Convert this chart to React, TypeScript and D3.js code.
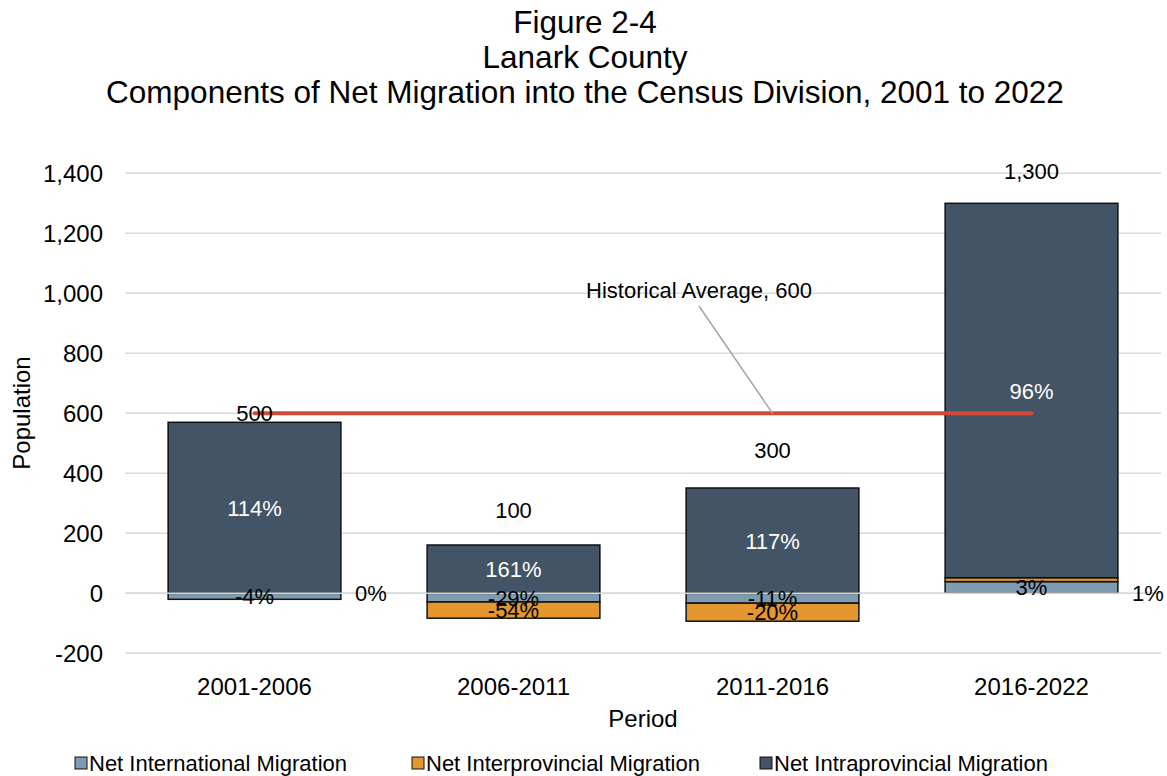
import React from "react";
import * as d3 from "d3";

// periods on the x axis
const periods = ["2001-2006", "2006-2011", "2011-2016", "2016-2022"];

// series values (persons)
const international = [-20, -29, -33, 39];
const interprovincial = [0, -54, -60, 13];
const intraprovincial = [570, 161, 351, 1248];

// label text shown on the chart
const totalLabels = ["500", "100", "300", "1,300"];
const internationalPct = ["-4%", "-29%", "-11%", "3%"];
const interprovincialPct = ["0%", "-54%", "-20%", "1%"];
const intraprovincialPct = ["114%", "161%", "117%", "96%"];

const historicalAverage = 600;
const yTicks = [-200, 0, 200, 400, 600, 800, 1000, 1200, 1400];

const seriesNames = [
  "Net International Migration",
  "Net Interprovincial Migration",
  "Net Intraprovincial Migration",
];
const colors = ["#7f9bb0", "#e3972e", "#435466"];

const W = 1167;
const H = 776;
const FONT = "'Liberation Sans', Arial, sans-serif";

export default function App() {
  const x = d3
    .scaleBand()
    .domain(periods)
    .range([125, 1161])
    .paddingInner(0.333)
    .paddingOuter(0.1665);
  const y = d3.scaleLinear().domain([-200, 1400]).range([653.3, 173.3]);
  const bw = x.bandwidth();
  const fmt = (v: number) => d3.format(",")(v).replace("\u2212", "-");

  // stacked segments: positives stack up from 0, negatives stack down
  const segs: any[] = [];
  periods.forEach((p, i) => {
    let pos = 0;
    let neg = 0;
    [international, interprovincial, intraprovincial].forEach((arr, s) => {
      const v = arr[i];
      let y0, y1;
      if (v >= 0) {
        y0 = pos;
        y1 = pos + v;
        pos = y1;
      } else {
        y0 = neg;
        y1 = neg + v;
        neg = y1;
      }
      segs.push({ p, i, s, v, y0, y1 });
    });
  });

  const pctLabels = [internationalPct, interprovincialPct, intraprovincialPct];
  // how far the total labels sit above each bar (px)
  const totalLift = [1, 27, 30, 24];

  const lineY = y(historicalAverage);
  const lineX0 = x(periods[0])! + bw / 2;
  const lineX1 = x(periods[3])! + bw / 2;
  const pointX = x(periods[2])! + bw / 2;

  const legendX = [75, 412, 760];

  return (
    <svg width={W} height={H} style={{ position: "absolute", left: 0, top: 0, background: "#fff" }} fontFamily={FONT}>
      {/* title */}
      <g textAnchor="middle" fontSize={31.5} fill="#000">
        <text x={585} y={33}>Figure 2-4</text>
        <text x={585} y={68}>Lanark County</text>
        <text x={585} y={103}>Components of Net Migration into the Census Division, 2001 to 2022</text>
      </g>

      {/* gridlines */}
      {yTicks.map((t) => (
        <line key={t} x1={125} x2={1161} y1={y(t)} y2={y(t)} stroke="#d9d9d9" strokeWidth={1.5} />
      ))}
      {/* y tick labels */}
      {yTicks.map((t) => (
        <text key={"l" + t} x={103} y={y(t) + 8.5} textAnchor="end" fontSize={24} fill="#000">
          {fmt(t)}
        </text>
      ))}

      {/* bars */}
      {segs.map((d, k) =>
        d.v === 0 ? null : (
          <rect
            key={k}
            x={x(d.p)}
            width={bw}
            y={y(Math.max(d.y0, d.y1))}
            height={Math.abs(y(d.y0) - y(d.y1))}
            fill={colors[d.s]}
            stroke="#111"
            strokeWidth={1.5}
          />
        )
      )}

      {/* zero line drawn over the bars */}
      <line x1={125} x2={1161} y1={y(0)} y2={y(0)} stroke="#d9d9d9" strokeWidth={1.5} />

      {/* historical average */}
      <line x1={lineX0} x2={lineX1} y1={lineY} y2={lineY} stroke="#d24a36" strokeWidth={4} strokeLinecap="round" />
      <line x1={699} y1={306} x2={pointX} y2={lineY} stroke="#a6a6a6" strokeWidth={1.5} />
      <text x={699} y={298} textAnchor="middle" fontSize={22} fill="#000">
        Historical Average, {fmt(historicalAverage)}
      </text>

      {/* segment percentage labels */}
      {segs.map((d, k) => {
        const outside = Math.abs(d.v) < 15 && d.s === 1;
        const lx = outside ? x(d.p)! + bw + 30 : x(d.p)! + bw / 2;
        const ly = outside ? y(0) + 8 : y((d.y0 + d.y1) / 2) + 8;
        return (
          <text key={"p" + k} x={lx} y={ly} textAnchor="middle" fontSize={22} fill={d.s === 2 ? "#fff" : "#000"}>
            {pctLabels[d.s][d.i]}
          </text>
        );
      })}

      {/* total labels */}
      {periods.map((p, i) => {
        const top = Math.max(0, international[i]) + Math.max(0, interprovincial[i]) + Math.max(0, intraprovincial[i]);
        return (
          <text key={"t" + i} x={x(p)! + bw / 2} y={y(top) - totalLift[i]} textAnchor="middle" fontSize={22} fill="#000">
            {totalLabels[i]}
          </text>
        );
      })}

      {/* x axis labels */}
      {periods.map((p) => (
        <text key={"x" + p} x={x(p)! + bw / 2} y={695} textAnchor="middle" fontSize={24} fill="#000">
          {p}
        </text>
      ))}
      <text x={643} y={727} textAnchor="middle" fontSize={24} fill="#000">Period</text>
      <text transform={`translate(30,413) rotate(-90)`} textAnchor="middle" fontSize={24} fill="#000">Population</text>

      {/* legend */}
      {seriesNames.map((n, s) => (
        <g key={n} transform={`translate(${legendX[s]},763)`}>
          <rect x={0} y={-6} width={12} height={12} fill={colors[s]} stroke="#111" strokeWidth={1} />
          <text x={14} y={8} fontSize={22} fill="#000">{n}</text>
        </g>
      ))}
    </svg>
  );
}
